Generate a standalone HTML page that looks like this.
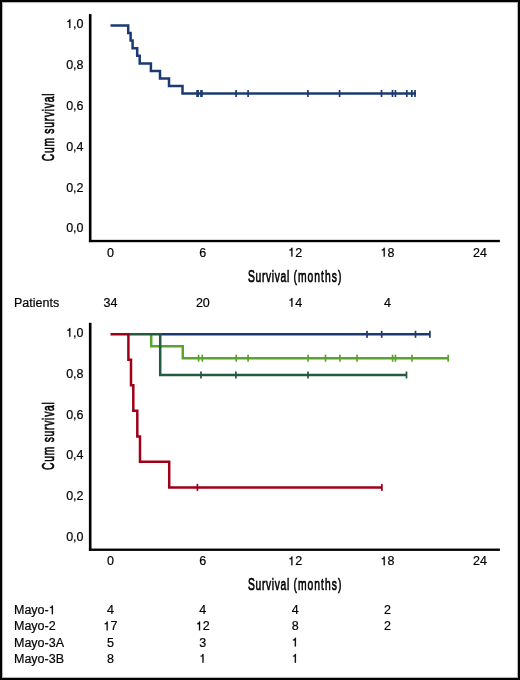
<!DOCTYPE html>
<html><head><meta charset="utf-8"><style>
html,body{margin:0;padding:0;background:#fff;}
#f{position:relative;width:516px;height:676px;border:2px solid #000;overflow:hidden;}
#f:after{content:'';position:absolute;left:0;top:0;right:0;bottom:0;box-shadow:inset 0 0 0 1px #b8b8b8,inset 0 0 0 2px #fafafa;pointer-events:none;}
svg{position:absolute;left:-2px;top:-2px;will-change:transform;}
text{font-kerning:none;}
.tl{font-family:"Liberation Sans",sans-serif;font-size:12.5px;fill:#000;stroke:#000;stroke-width:0.2px;}
.at{font-family:"Liberation Sans",sans-serif;font-size:17.2px;letter-spacing:1.4px;fill:#000;stroke:#000;stroke-width:0.7px;}
</style></head><body><div id="f"><svg width="520" height="680" viewBox="0 0 520 680">
<rect x="88.9" y="14.10" width="2.6" height="228.00" fill="#000"/><rect x="88.9" y="239.85" width="411" height="2.35" fill="#000"/><text x="66.17" y="28.10" class="tl"> ,0</text><path d="M0.335,0H0.245V-0.49H0.095V-0.56C0.19,-0.565 0.24,-0.6 0.255,-0.70H0.335Z" transform="translate(66.17,28.10) scale(12.5)" fill="#000" stroke="#000" stroke-width="0.0160"/><text x="66.17" y="68.96" class="tl">0,8</text><text x="66.17" y="109.82" class="tl">0,6</text><text x="66.17" y="150.68" class="tl">0,4</text><text x="66.17" y="191.54" class="tl">0,2</text><text x="66.17" y="232.40" class="tl">0,0</text><text x="107.02" y="256.60" class="tl">0</text><text x="199.37" y="256.60" class="tl">6</text><text x="288.25" y="256.60" class="tl"> 2</text><path d="M0.335,0H0.245V-0.49H0.095V-0.56C0.19,-0.565 0.24,-0.6 0.255,-0.70H0.335Z" transform="translate(288.25,256.60) scale(12.5)" fill="#000" stroke="#000" stroke-width="0.0160"/><text x="380.60" y="256.60" class="tl"> 8</text><path d="M0.335,0H0.245V-0.49H0.095V-0.56C0.19,-0.565 0.24,-0.6 0.255,-0.70H0.335Z" transform="translate(380.60,256.60) scale(12.5)" fill="#000" stroke="#000" stroke-width="0.0160"/><text x="472.95" y="256.60" class="tl">24</text><text class="at" transform="translate(248,281.90) scale(0.6,1)"><tspan style="letter-spacing:1.1px">Survival</tspan><tspan x="75.7" style="letter-spacing:1.75px">(months)</tspan></text><text class="at" transform="translate(53.7,161.30) rotate(-90) scale(0.6,1)" style="letter-spacing:1.25px">Cum survival</text><rect x="88.9" y="322.80" width="2.6" height="228.00" fill="#000"/><rect x="88.9" y="548.55" width="411" height="2.35" fill="#000"/><text x="66.17" y="336.80" class="tl"> ,0</text><path d="M0.335,0H0.245V-0.49H0.095V-0.56C0.19,-0.565 0.24,-0.6 0.255,-0.70H0.335Z" transform="translate(66.17,336.80) scale(12.5)" fill="#000" stroke="#000" stroke-width="0.0160"/><text x="66.17" y="377.66" class="tl">0,8</text><text x="66.17" y="418.52" class="tl">0,6</text><text x="66.17" y="459.38" class="tl">0,4</text><text x="66.17" y="500.24" class="tl">0,2</text><text x="66.17" y="541.10" class="tl">0,0</text><text x="107.02" y="565.30" class="tl">0</text><text x="199.37" y="565.30" class="tl">6</text><text x="288.25" y="565.30" class="tl"> 2</text><path d="M0.335,0H0.245V-0.49H0.095V-0.56C0.19,-0.565 0.24,-0.6 0.255,-0.70H0.335Z" transform="translate(288.25,565.30) scale(12.5)" fill="#000" stroke="#000" stroke-width="0.0160"/><text x="380.60" y="565.30" class="tl"> 8</text><path d="M0.335,0H0.245V-0.49H0.095V-0.56C0.19,-0.565 0.24,-0.6 0.255,-0.70H0.335Z" transform="translate(380.60,565.30) scale(12.5)" fill="#000" stroke="#000" stroke-width="0.0160"/><text x="472.95" y="565.30" class="tl">24</text><text class="at" transform="translate(248,590.10) scale(0.6,1)"><tspan style="letter-spacing:1.1px">Survival</tspan><tspan x="75.7" style="letter-spacing:1.75px">(months)</tspan></text><text class="at" transform="translate(53.7,470.00) rotate(-90) scale(0.6,1)" style="letter-spacing:1.25px">Cum survival</text><path d="M110.5,25.4 H128.2 V33 H130.6 V40.6 H132.6 V48.2 H137.2 V55.7 H139.7 V63.4 H150.9 V70.9 H160 V78.4 H169 V86 H182.5 V93.5 H416" fill="none" stroke="#1b3a73" stroke-width="2.5" stroke-linejoin="miter" stroke-linecap="butt"/><rect x="196.25" y="90.00" width="1.7" height="7" fill="#1b3a73"/><rect x="197.35" y="90.00" width="1.7" height="7" fill="#1b3a73"/><rect x="200.15" y="90.00" width="1.7" height="7" fill="#1b3a73"/><rect x="201.05" y="90.00" width="1.7" height="7" fill="#1b3a73"/><rect x="235.25" y="90.00" width="1.7" height="7" fill="#1b3a73"/><rect x="247.25" y="90.00" width="1.7" height="7" fill="#1b3a73"/><rect x="307.05" y="90.00" width="1.7" height="7" fill="#1b3a73"/><rect x="338.75" y="90.00" width="1.7" height="7" fill="#1b3a73"/><rect x="380.65" y="90.00" width="1.7" height="7" fill="#1b3a73"/><rect x="391.65" y="90.00" width="1.7" height="7" fill="#1b3a73"/><rect x="394.60" y="90.00" width="1.7" height="7" fill="#1b3a73"/><rect x="405.95" y="90.00" width="1.7" height="7" fill="#1b3a73"/><rect x="410.95" y="90.00" width="1.7" height="7" fill="#1b3a73"/><rect x="414.15" y="90.00" width="1.7" height="7" fill="#1b3a73"/><text x="14.00" y="306.70" class="tl">Patients</text><text x="103.55" y="306.70" class="tl">34</text><text x="195.90" y="306.70" class="tl">20</text><text x="288.25" y="306.70" class="tl"> 4</text><path d="M0.335,0H0.245V-0.49H0.095V-0.56C0.19,-0.565 0.24,-0.6 0.255,-0.70H0.335Z" transform="translate(288.25,306.70) scale(12.5)" fill="#000" stroke="#000" stroke-width="0.0160"/><text x="384.07" y="306.70" class="tl">4</text><path d="M160.2,334.3 H430" fill="none" stroke="#1b3a73" stroke-width="2.5" stroke-linejoin="miter" stroke-linecap="butt"/><rect x="366.15" y="330.80" width="1.7" height="7" fill="#1b3a73"/><rect x="380.85" y="330.80" width="1.7" height="7" fill="#1b3a73"/><rect x="414.65" y="330.80" width="1.7" height="7" fill="#1b3a73"/><rect x="429.05" y="330.80" width="1.7" height="7" fill="#1b3a73"/><path d="M151.2,334.3 V346.2 H182.8 V358.2 H448.5" fill="none" stroke="#5ba22e" stroke-width="2.5" stroke-linejoin="miter" stroke-linecap="butt"/><rect x="197.70" y="354.70" width="1.7" height="7" fill="#5ba22e"/><rect x="201.45" y="354.70" width="1.7" height="7" fill="#5ba22e"/><rect x="235.35" y="354.70" width="1.7" height="7" fill="#5ba22e"/><rect x="247.25" y="354.70" width="1.7" height="7" fill="#5ba22e"/><rect x="307.25" y="354.70" width="1.7" height="7" fill="#5ba22e"/><rect x="324.65" y="354.70" width="1.7" height="7" fill="#5ba22e"/><rect x="339.05" y="354.70" width="1.7" height="7" fill="#5ba22e"/><rect x="356.15" y="354.70" width="1.7" height="7" fill="#5ba22e"/><rect x="391.75" y="354.70" width="1.7" height="7" fill="#5ba22e"/><rect x="394.65" y="354.70" width="1.7" height="7" fill="#5ba22e"/><rect x="411.15" y="354.70" width="1.7" height="7" fill="#5ba22e"/><rect x="447.35" y="354.70" width="1.7" height="7" fill="#5ba22e"/><path d="M128.4,334.3 H160.2 V375.0 H407" fill="none" stroke="#235a40" stroke-width="2.5" stroke-linejoin="miter" stroke-linecap="butt"/><rect x="200.15" y="371.50" width="1.7" height="7" fill="#235a40"/><rect x="235.05" y="371.50" width="1.7" height="7" fill="#235a40"/><rect x="307.15" y="371.50" width="1.7" height="7" fill="#235a40"/><rect x="405.65" y="371.50" width="1.7" height="7" fill="#235a40"/><path d="M110.5,334.3 H128.4 V359.7 H131 V385.2 H133.3 V410.8 H137.3 V436.5 H140 V461.8 H169.2 V487.4 H382" fill="none" stroke="#9e0018" stroke-width="2.5" stroke-linejoin="miter" stroke-linecap="butt"/><rect x="196.55" y="483.90" width="1.7" height="7" fill="#9e0018"/><rect x="381.05" y="483.90" width="1.7" height="7" fill="#9e0018"/><text x="14.00" y="614.20" class="tl">Mayo- </text><path d="M0.335,0H0.245V-0.49H0.095V-0.56C0.19,-0.565 0.24,-0.6 0.255,-0.70H0.335Z" transform="translate(48.73,614.20) scale(12.5)" fill="#000" stroke="#000" stroke-width="0.0160"/><text x="107.02" y="614.20" class="tl">4</text><text x="199.37" y="614.20" class="tl">4</text><text x="291.72" y="614.20" class="tl">4</text><text x="384.07" y="614.20" class="tl">2</text><text x="14.00" y="630.35" class="tl">Mayo-2</text><text x="103.55" y="630.35" class="tl"> 7</text><path d="M0.335,0H0.245V-0.49H0.095V-0.56C0.19,-0.565 0.24,-0.6 0.255,-0.70H0.335Z" transform="translate(103.55,630.35) scale(12.5)" fill="#000" stroke="#000" stroke-width="0.0160"/><text x="195.90" y="630.35" class="tl"> 2</text><path d="M0.335,0H0.245V-0.49H0.095V-0.56C0.19,-0.565 0.24,-0.6 0.255,-0.70H0.335Z" transform="translate(195.90,630.35) scale(12.5)" fill="#000" stroke="#000" stroke-width="0.0160"/><text x="291.72" y="630.35" class="tl">8</text><text x="384.07" y="630.35" class="tl">2</text><text x="14.00" y="646.50" class="tl">Mayo-3A</text><text x="107.02" y="646.50" class="tl">5</text><text x="199.37" y="646.50" class="tl">3</text><text x="291.72" y="646.50" class="tl"> </text><path d="M0.335,0H0.245V-0.49H0.095V-0.56C0.19,-0.565 0.24,-0.6 0.255,-0.70H0.335Z" transform="translate(291.72,646.50) scale(12.5)" fill="#000" stroke="#000" stroke-width="0.0160"/><text x="14.00" y="662.65" class="tl">Mayo-3B</text><text x="107.02" y="662.65" class="tl">8</text><text x="199.37" y="662.65" class="tl"> </text><path d="M0.335,0H0.245V-0.49H0.095V-0.56C0.19,-0.565 0.24,-0.6 0.255,-0.70H0.335Z" transform="translate(199.37,662.65) scale(12.5)" fill="#000" stroke="#000" stroke-width="0.0160"/><text x="291.72" y="662.65" class="tl"> </text><path d="M0.335,0H0.245V-0.49H0.095V-0.56C0.19,-0.565 0.24,-0.6 0.255,-0.70H0.335Z" transform="translate(291.72,662.65) scale(12.5)" fill="#000" stroke="#000" stroke-width="0.0160"/>
</svg></div></body></html>
